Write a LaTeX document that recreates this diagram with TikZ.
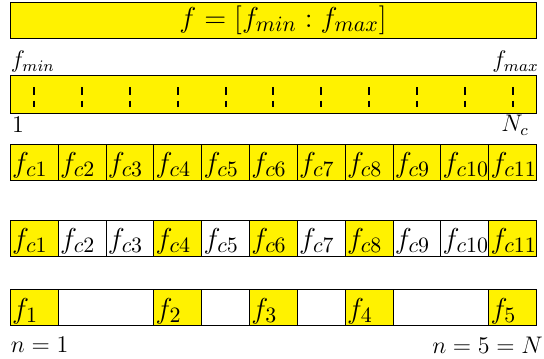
\documentclass[tikz,border=0pt]{standalone}
\usepackage{amsmath,amssymb}
\usepackage{tikz}
\tikzset{
  barbox/.style={draw,fill=yellow,inner sep=0pt,outer sep=0pt,minimum width=263pt},
  cellbox/.style={draw,inner sep=0pt,outer sep=0pt,minimum width=23.92pt,minimum height=18pt},
  celltxt/.style={anchor=south west,inner sep=0.7pt,font=\fontsize{15.3}{18}\selectfont},
  tickline/.style={line width=1pt,dash pattern=on 3.8pt off 3pt},
  lbl/.style={inner sep=0pt,font=\large}
}

\begin{document}
\begin{tikzpicture}[x=0.5pt,y=-0.5pt]
\useasboundingbox (0,0) rectangle (544,358);
% full range
\node[barbox,minimum height=18pt] (range) at (273.4,20) {};
\node[inner sep=0pt,font=\fontsize{15.3}{18}\selectfont] (rangetxt) at (283,20) {$f=[f_{min}:f_{max}]$};
\node[lbl,anchor=west] (fmin) at (10.5,62) {$f_{min}$};
\node[lbl,anchor=east] (fmax) at (539,62) {$f_{max}$};
% sampled band
\node[barbox,minimum height=19pt] (band) at (273.4,94) {};
\foreach \i in {1,...,11}{
  \pgfmathsetmacro\x{10.4+(\i-0.5)*47.83}
  \draw[tickline] (\x,87) -- (\x,107);
}
\node[lbl] (one) at (18,125) {$1$};
\node[lbl,anchor=east] (nc) at (529,125) {$N_c$};
% all candidates
\foreach \i in {1,...,11}{
  \pgfmathsetmacro\x{10.4+(\i-0.5)*47.83}
  \node[cellbox,fill=yellow] (c\i) at (\x,162) {};
  \node[celltxt] (tc\i) at (c\i.south west) {$f_{c\i}$};
}
% selected candidates
\foreach \i/\col in {1/yellow,2/white,3/white,4/yellow,5/white,6/yellow,7/white,8/yellow,9/white,10/white,11/yellow}{
  \pgfmathsetmacro\x{10.4+(\i-0.5)*47.83}
  \node[cellbox,fill=\col] (s\i) at (\x,238) {};
  \node[celltxt] (ts\i) at (s\i.south west) {$f_{c\i}$};
}
% kept frequencies
\node[barbox,fill=white,minimum height=18pt] (kept) at (273.4,307.5) {};
\foreach \i/\n in {1/1,4/2,6/3,8/4,11/5}{
  \pgfmathsetmacro\x{10.4+(\i-0.5)*47.83}
  \node[cellbox,fill=yellow] (k\n) at (\x,307.5) {};
  \node[celltxt] (tk\n) at (k\n.south west) {$f_{\n}$};
}
\node[lbl,anchor=west] (nfirst) at (10.5,345) {$n=1$};
\node[lbl,anchor=east] (nlast) at (543,345) {$n=5=N$};
\end{tikzpicture}
\end{document}
